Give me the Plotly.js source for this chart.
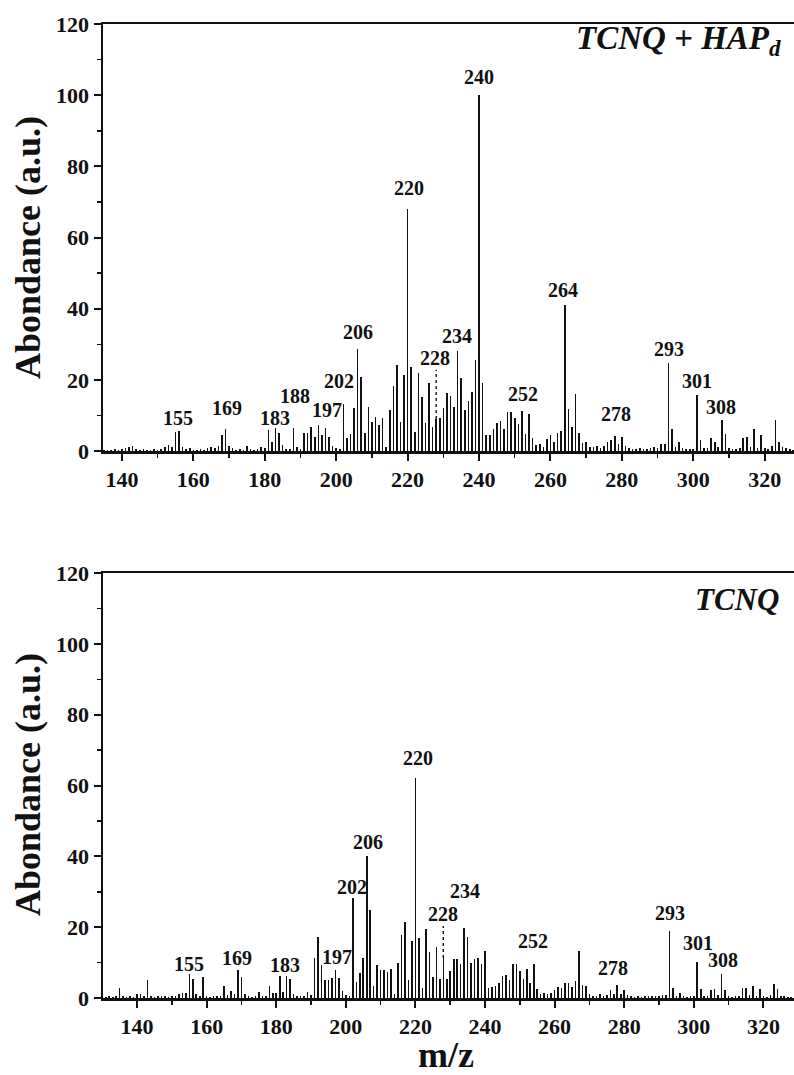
<!DOCTYPE html>
<html>
<head>
<meta charset="utf-8">
<script src="https://cdn.plot.ly/plotly-3.0.1.min.js"></script>
<style>html,body{margin:0;padding:0;background:#fff;}#chart{width:794px;height:1075px;}</style>
</head>
<body>
<div id="chart"></div>
<script>
// ---------- DATA ----------
// Top spectrum: TCNQ + HAPd, m/z 135..328
const mzTopStart = 135;
const abundanceTop = [
  0.3,0.4,0.3,0.5,0.4,            // 135-139
  0.6,0.8,1.2,1.5,0.6,0.4,0.5,0.4,0.3,0.5, // 140-149
  0.4,0.5,1.0,1.6,1.2,5.4,5.6,1.2,0.5,0.8, // 150-159
  0.4,0.3,0.5,0.4,0.8,1.2,0.9,1.3,4.6,6.2, // 160-169
  1.4,0.9,0.4,0.5,0.4,1.4,0.5,0.4,0.6,1.0, // 170-179
  0.9,5.9,2.4,6.4,5.2,1.8,0.5,0.6,6.4,1.0, // 180-189
  0.6,5.0,5.2,6.8,3.8,7.2,4.5,6.6,4.0,1.5, // 190-199
  0.8,0.6,13.2,3.7,4.8,12.0,28.8,20.9,5.0,12.5, // 200-209
  8.2,9.6,7.3,9.2,1.0,11.5,18.3,24.3,8.2,21.3, // 210-219
  68.0,23.5,5.4,21.8,15.3,8.0,19.2,6.8,9.0,9.2, // 220-229
  12.0,16.2,15.5,12.5,28.0,20.6,11.4,14.0,16.6,25.6, // 230-239
  100,19.0,4.5,4.5,6.1,8.0,8.4,6.1,11.0,11.0, // 240-249
  9.2,7.5,11.2,4.7,10.5,3.7,1.7,2.0,1.0,3.3, // 250-259
  4.4,2.5,5.0,5.6,41.0,11.7,6.8,15.9,5.1,2.3, // 260-269
  2.5,1.2,1.0,1.5,0.8,1.5,2.5,3.0,4.2,2.0, // 270-279
  4.0,1.5,0.8,0.6,0.7,0.8,0.6,0.7,0.9,1.0, // 280-289
  0.8,2.0,1.9,24.8,6.1,1.0,2.5,0.8,0.6,0.5, // 290-299
  0.7,15.8,3.0,0.8,0.9,3.7,2.5,1.0,8.6,4.7, // 300-309
  0.8,0.5,0.6,0.8,3.7,3.9,1.2,6.1,0.9,4.5, // 310-319
  0.8,0.6,1.5,8.8,2.5,1.0,0.8,0.5,0.4      // 320-328
];
// Bottom spectrum: TCNQ, m/z 131..328
const mzBottomStart = 131;
const abundanceBottom = [
  0.4,0.5,0.4,0.6,2.9,0.5,0.4,0.5,0.4,     // 131-139
  1.0,1.0,0.6,5.0,0.5,0.4,0.5,0.6,0.5,0.4, // 140-149
  0.5,0.6,1.0,1.3,1.3,6.7,5.5,1.0,0.6,5.9, // 150-159
  0.5,0.4,0.5,0.6,0.7,3.3,0.8,1.9,1.0,7.8, // 160-169
  5.9,1.0,0.5,0.4,0.6,1.6,0.5,0.6,3.3,1.3, // 170-179
  1.5,6.1,1.6,6.1,5.5,1.0,0.6,0.5,0.6,1.6, // 180-189
  0.8,11.2,17.2,9.3,5.0,5.2,5.7,8.0,5.7,2.1, // 190-199
  0.8,0.7,28.2,4.5,7.1,11.2,40.0,24.9,3.5,9.3, // 200-209
  8.0,7.8,7.4,8.3,1.0,10.0,17.9,21.4,5.0,16.0, // 210-219
  62.0,16.9,2.9,19.5,13.1,5.9,14.5,5.5,11.3,5.5, // 220-229
  7.7,11.0,11.0,9.6,19.8,17.2,10.0,11.0,11.2,9.6, // 230-239
  13.2,2.9,3.2,3.3,4.3,6.2,6.4,5.1,9.6,9.6, // 240-249
  7.7,5.3,8.3,4.3,9.6,2.6,1.2,1.3,1.0,1.5, // 250-259
  2.4,3.2,2.9,4.3,4.1,3.2,4.8,13.2,3.8,3.3, // 260-269
  1.0,0.6,0.5,1.0,0.6,0.8,2.4,1.2,3.8,1.0, // 270-279
  2.4,0.8,0.5,0.4,0.5,0.4,0.5,0.6,0.5,0.6, // 280-289
  0.5,0.8,0.9,18.9,2.9,0.6,1.4,0.5,0.4,0.5, // 290-299
  0.6,10.2,2.6,0.5,0.6,2.2,2.6,0.8,6.7,2.4, // 300-309
  0.5,0.4,0.5,0.6,2.9,2.9,0.8,3.3,0.6,2.6, // 310-319
  0.5,0.4,0.8,4.0,2.6,0.6,0.5,0.4,0.4      // 320-328
];
// dotted marker at m/z 228: [from, to]
const dottedMz = 228;
const dottedTop = [9.0, 22.8];
const dottedBottom = [11.3, 20.3];

// peak labels
const labelsTop   = ["155","169","183","188","197","202","206","220","228","234","240","252","264","278","293","301","308"];
const labelTopX   = [155.7,169.4,182.9,188.5,197.3,200.9,206.2,220.5,227.7,233.8,240.0,252.2,263.6,278.4,293.1,301.0,307.7];
const labelTopY   = [9.3,12.0,9.3,15.4,11.5,19.7,33.5,73.8,26.0,32.3,105.0,15.9,45.2,10.3,28.8,19.7,12.4];
const labelsBottom = ["155","169","183","197","202","206","220","228","234","252","278","293","301","308"];
const labelBotX    = [154.8,168.6,182.5,197.4,201.7,206.5,220.8,228.0,234.3,253.7,276.9,293.2,301.3,308.5];
const labelBotY    = [9.6,11.3,9.4,11.7,31.3,44.1,67.7,23.8,30.2,16.2,8.5,24.1,15.5,10.6];

const titleTop = "<i>TCNQ + HAP<sub>d</sub></i>";
const titleBottom = "<i>TCNQ</i>";
const yTitle = "Abondance (a.u.)";
const xTitle = "m/z";

// ---------- BUILD ----------
const mzTop = abundanceTop.map((_, i) => mzTopStart + i);
const mzBottom = abundanceBottom.map((_, i) => mzBottomStart + i);

const FONT = 'Liberation Serif';
const ink = '#111';

const traces = [
  {type:'bar', x: mzTop, y: abundanceTop, width: 0.45, marker:{color: ink, line:{width:0}}, xaxis:'x', yaxis:'y', hoverinfo:'x+y'},
  {type:'bar', x: mzBottom, y: abundanceBottom, width: 0.45, marker:{color: ink, line:{width:0}}, xaxis:'x2', yaxis:'y2', hoverinfo:'x+y'},
  {type:'scatter', mode:'lines', x:[dottedMz, dottedMz], y: dottedTop, line:{color: ink, width:1.4, dash:'dot'}, xaxis:'x', yaxis:'y'},
  {type:'scatter', mode:'lines', x:[dottedMz, dottedMz], y: dottedBottom, line:{color: ink, width:1.4, dash:'dot'}, xaxis:'x2', yaxis:'y2'}
];

const tickFont = {family: FONT, size: 22, color: ink, weight: 'bold'};
function xAxis(range, anchor) {
  return {
    range: range, domain: [103/794, 1], anchor: anchor,
    tick0: 140, dtick: 20, ticks: 'outside', ticklen: 7, tickwidth: 2, tickcolor: ink,
    minor: {dtick: 10, tick0: 140, ticks: 'outside', ticklen: 4, tickwidth: 1.5, tickcolor: ink},
    showline: true, linewidth: 2.5, linecolor: ink, mirror: true,
    showgrid: false, zeroline: false, tickfont: tickFont, automargin: false, fixedrange: true
  };
}
function yAxis(domain, anchor) {
  return {
    range: [0, 120], domain: domain, anchor: anchor,
    dtick: 20, ticks: 'outside', ticklen: 7, tickwidth: 2, tickcolor: ink,
    minor: {dtick: 10, ticks: 'outside', ticklen: 4, tickwidth: 1.5, tickcolor: ink},
    showline: true, linewidth: 2.5, linecolor: ink,
    showgrid: false, zeroline: false, tickfont: tickFont, automargin: false, fixedrange: true
  };
}

const peakFont = {family: FONT, size: 20, color: ink, weight:'bold'};
const annotations = [];
labelsTop.forEach((t, i) => annotations.push({xref:'x', yref:'y', x: labelTopX[i], y: labelTopY[i], text: t, showarrow:false,
  xanchor:'center', yanchor:'middle', font: peakFont}));
labelsBottom.forEach((t, i) => annotations.push({xref:'x2', yref:'y2', x: labelBotX[i], y: labelBotY[i], text: t, showarrow:false,
  xanchor:'center', yanchor:'middle', font: peakFont}));
annotations.push({xref:'paper', yref:'y', x: 783/794, xanchor:'right', yanchor:'middle', y: 115.3, text: titleTop, showarrow:false,
  font:{family: FONT, size: 33, color: ink, weight:'bold'}});
annotations.push({xref:'paper', yref:'y2', x: 781/794, xanchor:'right', yanchor:'middle', y: 112.5, text: titleBottom, showarrow:false,
  font:{family: FONT, size: 31, color: ink, weight:'bold'}});
annotations.push({xref:'paper', yref:'paper', x: 28/794, y: 1 - 248/1075, xanchor:'center', yanchor:'middle', text: yTitle, textangle: -90, showarrow:false,
  font:{family: FONT, size: 36, color: ink, weight:'bold'}});
annotations.push({xref:'paper', yref:'paper', x: 28/794, y: 1 - 785/1075, xanchor:'center', yanchor:'middle', text: yTitle, textangle: -90, showarrow:false,
  font:{family: FONT, size: 36, color: ink, weight:'bold'}});
annotations.push({xref:'paper', yref:'paper', x: 446/794, y: 1 - 1055/1075, xanchor:'center', yanchor:'middle', text: xTitle, showarrow:false,
  font:{family: FONT, size: 36, color: ink, weight:'bold'}});

const layout = {
  width: 794, height: 1075,
  margin: {l:0, r:0, t:0, b:0},
  paper_bgcolor: '#fff', plot_bgcolor: '#fff',
  showlegend: false, bargap: 0,
  xaxis: xAxis([134.7, 328.2], 'y'),
  yaxis: yAxis([1 - 451/1075, 1 - 24/1075], 'x'),
  xaxis2: xAxis([130.2, 328.8], 'y2'),
  yaxis2: yAxis([1 - 998/1075, 1 - 573/1075], 'x2'),
  annotations: annotations
};

Plotly.newPlot('chart', traces, layout, {staticPlot: true, displayModeBar: false});
</script>
</body>
</html>
